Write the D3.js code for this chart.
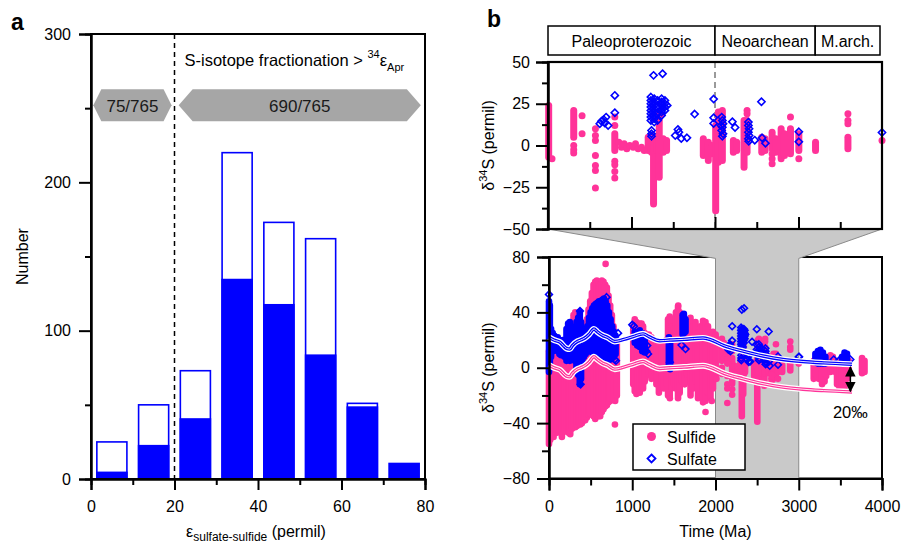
<!DOCTYPE html>
<html><head><meta charset="utf-8">
<script src="https://cdn.jsdelivr.net/npm/d3@7"></script>
<style>body{margin:0;background:#fff}svg{display:block}</style>
</head><body><svg id="c" width="901" height="543"></svg>
<script>
// ---------------- DATA ----------------
// Panel a: histogram of sulfate-sulfide fractionation
const binStarts = [0, 10, 20, 30, 40, 50, 60, 70];
const totalCounts = [25, 50, 73, 220, 173, 162, 51, 11];
const filledCounts = [5, 23, 41, 135, 118, 84, 49, 11];
const xTicksA = [0, 20, 40, 60, 80];
const yTicksA = [0, 100, 200, 300];
const groupLabels = ["75/765", "690/765"];
const groupExtents = [[0.55, 19.3], [21.0, 79.0]];
const thresholdEps = 20;

// Panel b: eras over the 2000-3000 Ma detail window
const eraNames = ["Paleoproterozoic", "Neoarchean", "M.arch."];
const eraBounds = [2000, 2500, 2800, 3000];
const detailWindow = [2000, 3000];
const xTicksB = [0, 1000, 2000, 3000, 4000];
const yTicksTop = [-50, -25, 0, 25, 50];
const yTicksBot = [-80, -40, 0, 40, 80];

// detail window data (2000-3000 Ma), used in both panels
// dense stacks: [age Ma, highest d34S, lowest d34S]
const detailSulfideStacks = [
  [2002, 24, -7], [2077, 21, 5], [2200, 7, -3], [2300, 5, -3], [2310, 6, -4],
  [2316, 1, -35], [2325, 5, -3], [2333, 19, -19], [2345, 4, -4], [2355, 3, -3],
  [2465, 4, -6], [2480, 2, -9], [2490, 0, -5], [2502, 12, -39], [2510, 20, -10],
  [2522, 21, -9], [2555, 3, -4], [2565, 2, -3], [2587, 15, -13], [2596, 15, -4],
  [2640, 5, -4], [2650, 4, -3], [2671, 8, -2], [2682, 4, -4], [2698, 10, -8],
  [2708, 7, -6], [2726, 10, -5], [2751, 7, -3], [2801, 2, -3], [2898, 5, -2]
];
const detailSulfidePts = [
  [2012, -8], [2077, 0], [2077, -2.5], [2077, -4.5], [2102, 17.8], [2102, 7],
  [2142, 10], [2142, 6], [2142, 3], [2142, -6], [2142, -12], [2142, -15], [2142, -25.5],
  [2200, 17], [2200, 12], [2200, -9.5], [2200, -11.5], [2200, -15.5], [2200, -19.5],
  [2212, 2], [2220, -1], [2228, 1], [2236, -2], [2245, 0], [2255, -1], [2262, 1],
  [2270, -2], [2280, -1], [2288, -3], [2596, 21], [2596, 19], [2671, -5], [2671, -8],
  [2671, -11], [2726, 17], [2751, -8], [2898, 19], [2898, 15], [2898, 13], [3000, 3], [2338, 18.5]
];
const detailSulfatePts = [
  [2155, 13], [2160, 14.5], [2167, 15.5], [2174, 17], [2180, 12], [2170, 13.5],
  [2200, 30], [2200, 19.6],
  [2308, 29], [2308, 27], [2308, 25], [2308, 23], [2308, 21], [2308, 19], [2308, 17], [2308, 15],
  [2310, 9], [2310, 7], [2310, 5.5],
  [2318, 28], [2318, 26], [2318, 24], [2318, 22], [2318, 20], [2318, 18], [2318, 16], [2318, 14],
  [2328, 27], [2328, 23], [2328, 19], [2328, 15],
  [2340, 28], [2340, 26], [2340, 24], [2340, 22], [2340, 20], [2340, 18],
  [2350, 27], [2350, 25], [2350, 23], [2350, 21], [2357, 24],
  [2316, 42], [2343, 43],
  [2381, 6], [2389, 9.6], [2392, 8], [2399, 4.2], [2416, 4.6], [2439, 18.8],
  [2496, 27.8], [2496, 16.6], [2496, 13.2],
  [2520, 17], [2522, 15], [2524, 13], [2522, 11], [2520, 9], [2524, 7], [2522, 5.5], [2518, 12],
  [2552, 14.2], [2560, 10.8],
  [2600, 14], [2600, 12], [2602, 10], [2600, 8], [2602, 6], [2600, 4], [2601, 2.5],
  [2639, 26.2], [2619, 3.2], [2641, 4.6], [2651, 1.4],
  [2751, 8.2], [2751, 2.2], [3000, 7.8]
];

// rest of the record (outside 2000-3000 Ma), lower panel only
const sulfideStacks = [
  [0, 12, -55], [15, 10, -52], [35, 12, -49], [55, 10, -50], [75, 12, -47], [95, 14, -47],
  [115, 14, -45], [135, 12, -46], [155, 15, -50], [175, 15, -45], [195, 14, -46], [215, 16, -44],
  [235, 20, -47], [255, 25, -48], [275, 32, -44], [295, 38, -43], [315, 40, -43], [335, 38, -42],
  [355, 30, -41], [375, 25, -41], [395, 22, -40], [415, 25, -38], [435, 28, -38], [455, 35, -36],
  [475, 42, -34], [495, 48, -33], [515, 54, -34], [535, 60, -35], [555, 62, -37], [575, 63, -35],
  [595, 60, -35], [615, 60, -35], [635, 63, -32], [655, 62, -30], [675, 60, -28], [695, 58, -27],
  [715, 52, -25], [735, 45, -24], [755, 38, -23], [775, 30, -22], [795, 20, -24], [815, 20, -20],
  [1012, 30, -12], [1030, 35, -17], [1050, 33, -19], [1070, 30, -15], [1090, 32, -18],
  [1110, 30, -14], [1130, 30, -15], [1150, 25, -10], [1200, 24, -5], [1230, 22, -8],
  [1260, 20, -3], [1290, 18, -12], [1320, 16, -18], [1350, 15, -10], [1380, 18, -15],
  [1410, 20, -12], [1430, 35, -20], [1450, 37, -21], [1470, 30, -15], [1500, 28, -12],
  [1525, 40, -15], [1550, 44, -22], [1570, 40, -18], [1600, 30, -10], [1630, 28, -12],
  [1660, 25, -5], [1700, 36, -20], [1730, 30, -15], [1760, 33, -10], [1790, 25, -22],
  [1820, 30, -20], [1850, 34, -25], [1880, 33, -24], [1910, 30, -18], [1940, 25, -22],
  [1970, 26, -15],
  [3180, 5, -8], [3210, 6, -6], [3240, 4, -8], [3280, 2, -12], [3310, 3, -10], [3330, 0, -6],
  [3380, 9, -3], [3410, 8, -2], [3440, 5, -3], [3460, 4, -12], [3490, 3, -15], [3520, 4, -13],
  [3550, 2, -15], [3580, 3, -8], [3600, 5, -5], [3760, 7, -4], [3790, 5, -3]
];
const sulfidePts = [[680, 75], [792, -41], [1452, -22], [1880, -32], [1955, -24], [1112, 32], [1552, 45]];
const sulfateStacks = [
  [0, 48, -3], [10, 45, 0], [25, 28, 8], [45, 25, 12], [65, 23, 13], [85, 21, 13], [105, 22, 12],
  [125, 20, 10], [145, 19, 9], [165, 20, 10], [185, 18, 8], [210, 28, 5], [230, 32, 6], [250, 33, 5],
  [270, 30, 8], [290, 22, 10], [310, 28, 5], [330, 33, 0], [350, 36, -5], [370, 40, -12],
  [385, 33, -8], [400, 25, 5], [420, 25, 8], [440, 27, 10], [460, 30, 12], [480, 36, 12],
  [500, 40, 12], [520, 43, 11], [540, 45, 10], [560, 46, 10], [580, 47, 9], [600, 48, 8],
  [620, 48, 8], [640, 49, 8], [660, 50, 7], [680, 48, 6], [700, 45, 6], [720, 40, 6],
  [740, 35, 6], [760, 30, 7], [780, 26, 8], [800, 23, 10],
  [1030, 26, 18], [1060, 24, 16], [1090, 27, 15], [1120, 25, 12], [1150, 20, 11],
  [1440, 22, 2], [1455, 20, -1], [1605, 38, 24], [1620, 39, 25], [1640, 35, 26],
  [3200, 10, 4], [3230, 12, 3], [3260, 13, 3], [3290, 11, 3], [3320, 8, 3],
  [3520, 8, 3], [3550, 11, 4], [3580, 10, 5]
];
const sulfatePts = [
  [0, 53], [372, 41], [380, -12], [692, 51], [752, 9], [790, 6], [804, 5], [730, 10], [710, 14],
  [770, 12], [660, 12], [600, 14], [830, 25], [1000, 31], [1020, 30], [1170, 12], [1190, 10],
  [1180, 16], [1592, 16.4], [1640, 13.5], [1452, 4], [3004, 8], [3420, 6], [3480, 5], [3620, 6]
];
// smoothed trends
const sulfateTrend = [
  [0, 22], [60, 20], [130, 18.5], [210, 14], [250, 13.5], [280, 16], [340, 19], [380, 20],
  [430, 21.5], [480, 24], [540, 28], [580, 26], [640, 23.5], [700, 22], [790, 19], [900, 20.5],
  [1010, 22.5], [1130, 24.5], [1200, 22.5], [1330, 19.5], [1450, 20], [1620, 20.5], [1850, 21.5],
  [1930, 20.5], [2100, 16], [2330, 12], [2570, 8.5], [2810, 6], [3050, 4.5], [3300, 3.5], [3640, 2.5]
];
const sulfideTrend = [
  [0, 2], [60, 0], [130, -1.5], [210, -6], [250, -6.5], [280, -4], [340, -1], [380, 0],
  [430, 1.5], [480, 4], [540, 8], [580, 6], [640, 3.5], [700, 2], [790, -1], [900, 0.5],
  [1010, 2.5], [1130, 4.5], [1200, 2.5], [1330, -0.5], [1450, 0], [1620, 0.5], [1850, 1.5],
  [1930, 0.5], [2100, -4], [2330, -8], [2570, -11.5], [2810, -14], [3050, -15.5], [3300, -16.5], [3640, -17.5]
];
const offsetArrow = {age: 3620, from: 0.5, to: -17};
const offsetLabel = "20‰";
const legendNames = ["Sulfide", "Sulfate"];

// ---------------- DRAWING ----------------
const FONT = '"Liberation Sans", Arial, Helvetica, sans-serif';
const PINK = "#ff3399", BLUE = "#0000ff";
const svg = d3.select("#c").attr("font-family", FONT);

function styleAxis(g, size) {
  g.select(".domain").attr("stroke", "#000").attr("stroke-width", 2);
  g.selectAll(".tick line").attr("stroke", "#000").attr("stroke-width", 2);
  g.selectAll(".tick text").attr("font-family", FONT).attr("font-size", size || 16).attr("fill", "#000");
}
function minorTicks(domain, step) {
  const out = [];
  for (let v = domain[0] + step / 2; v < domain[1]; v += step) out.push(v);
  return out;
}

// ===== Panel a =====
const xA = d3.scaleLinear().domain([0, 80]).range([91, 425]);
const yA = d3.scaleLinear().domain([0, 300]).range([479, 34]);

svg.append("text").attr("x", 11).attr("y", 30).attr("font-size", 23).attr("font-weight", "bold").text("a");

// bars
const gBars = svg.append("g");
binStarts.forEach((b, i) => {
  const x0 = xA(b + 1.4), x1 = xA(b + 8.6);
  if (totalCounts[i] > filledCounts[i]) {
    gBars.append("rect").attr("x", x0).attr("y", yA(totalCounts[i]))
      .attr("width", x1 - x0).attr("height", yA(0) - yA(totalCounts[i]))
      .attr("fill", "#fff").attr("stroke", BLUE).attr("stroke-width", 1.6);
  }
  gBars.append("rect").attr("x", x0 - 0.8).attr("y", yA(filledCounts[i]))
    .attr("width", x1 - x0 + 1.6).attr("height", yA(0) - yA(filledCounts[i]))
    .attr("fill", BLUE);
});

// threshold line
svg.append("line").attr("x1", xA(thresholdEps)).attr("x2", xA(thresholdEps))
  .attr("y1", yA(300)).attr("y2", yA(0)).attr("stroke", "#000").attr("stroke-width", 1.5)
  .attr("stroke-dasharray", "5,4");

// group arrows (hexagons)
const hexY = yA(252), hexH = 32;
const indents = [8, 14];
groupExtents.forEach((ext, i) => {
  const x0 = xA(ext[0]), x1 = xA(ext[1]), d = indents[i];
  const pts = [[x0, hexY], [x0 + d, hexY - hexH / 2], [x1 - d, hexY - hexH / 2], [x1, hexY],
               [x1 - d, hexY + hexH / 2], [x0 + d, hexY + hexH / 2]];
  svg.append("polygon").attr("points", pts.map(p => p.join(",")).join(" ")).attr("fill", "#a6a6a6");
  svg.append("text").attr("x", (x0 + x1) / 2).attr("y", hexY + 6.5).attr("text-anchor", "middle")
    .attr("font-size", 17).attr("fill", "#1a1a1a").text(groupLabels[i]);
});

// annotation
const ann = svg.append("text").attr("x", xA(22.4)).attr("y", 66).attr("font-size", 16.5).attr("fill", "#000");
ann.append("tspan").text("S-isotope fractionation > ");
ann.append("tspan").attr("font-size", 11).attr("dy", -8).text("34");
ann.append("tspan").attr("font-size", 16.5).attr("dy", 8).text("ε");
ann.append("tspan").attr("font-size", 11).attr("dy", 5).text("Apr");

// frame
svg.append("rect").attr("x", xA(0)).attr("y", yA(300)).attr("width", xA(80) - xA(0))
  .attr("height", yA(0) - yA(300)).attr("fill", "none").attr("stroke", "#000").attr("stroke-width", 2);

// axes
svg.append("g").attr("transform", `translate(${xA(0)},0)`)
  .call(d3.axisLeft(yA).tickValues(minorTicks([0, 300], 100)).tickSize(6).tickFormat(""))
  .call(g => styleAxis(g));
svg.append("g").attr("transform", `translate(${xA(0)},0)`)
  .call(d3.axisLeft(yA).tickValues(yTicksA).tickSize(12).tickPadding(8).tickFormat(d3.format("d")))
  .call(g => styleAxis(g));
svg.append("g").attr("transform", `translate(0,${yA(0)})`)
  .call(d3.axisBottom(xA).tickValues(minorTicks([0, 80], 20)).tickSize(6).tickFormat(""))
  .call(g => styleAxis(g));
svg.append("g").attr("transform", `translate(0,${yA(0)})`)
  .call(d3.axisBottom(xA).tickValues(xTicksA).tickSize(11).tickPadding(11).tickFormat(d3.format("d")))
  .call(g => styleAxis(g));

svg.append("text").attr("transform", `translate(28,${(yA(0) + yA(300)) / 2}) rotate(-90)`)
  .attr("text-anchor", "middle").attr("font-size", 16).text("Number");
const xl = svg.append("text").attr("x", (xA(0) + xA(80)) / 2 - 2).attr("y", 537).attr("text-anchor", "middle").attr("font-size", 16);
xl.append("tspan").text("ε");
xl.append("tspan").attr("font-size", 12).attr("dy", 4).text("sulfate-sulfide");
xl.append("tspan").attr("dy", -4).text(" (permil)");

// ===== Panel b =====
const xT = d3.scaleLinear().domain(detailWindow).range([548, 882]);
const yT = d3.scaleLinear().domain([-50, 50]).range([229, 62]);
const xB = d3.scaleLinear().domain([0, 4000]).range([549, 882]);
const yB = d3.scaleLinear().domain([-80, 80]).range([478.5, 257]);

svg.append("text").attr("x", 487).attr("y", 27).attr("font-size", 23).attr("font-weight", "bold").text("b");

// era bar
eraNames.forEach((n, i) => {
  const x0 = xT(eraBounds[i]), x1 = Math.min(xT(eraBounds[i + 1]), 880);
  svg.append("rect").attr("x", x0).attr("y", 26).attr("width", x1 - x0).attr("height", 29)
    .attr("fill", "#fff").attr("stroke", "#000").attr("stroke-width", 1.5);
  svg.append("text").attr("x", (x0 + x1) / 2).attr("y", 46.5).attr("text-anchor", "middle")
    .attr("font-size", 16).text(n);
});

// lower panel frame (top + right)
svg.append("rect").attr("x", xB(0)).attr("y", yB(80)).attr("width", xB(4000) - xB(0))
  .attr("height", yB(-80) - yB(80)).attr("fill", "none").attr("stroke", "#000").attr("stroke-width", 2);

// gray connector
const conn = [[xT(detailWindow[0]), yT(-50)], [xT(detailWindow[1]), yT(-50)],
  [xB(detailWindow[1]), yB(79)], [xB(detailWindow[1]), yB(-80)],
  [xB(detailWindow[0]), yB(-80)], [xB(detailWindow[0]), yB(79)]];
svg.append("polygon").attr("points", conn.map(p => p.join(",")).join(" "))
  .attr("fill", "#c9c9c9").attr("stroke", "#8a8a8a").attr("stroke-width", 1);

// marks
function drawStacks(g, data, xs, ys, color, r) {
  g.selectAll(null).data(data).enter().append("line")
    .attr("x1", d => xs(d[0])).attr("x2", d => xs(d[0]))
    .attr("y1", d => ys(d[1])).attr("y2", d => ys(d[2]))
    .attr("stroke", color).attr("stroke-width", 2 * r).attr("stroke-linecap", "round");
}
function drawDots(g, data, xs, ys, color, r) {
  g.selectAll(null).data(data).enter().append("circle")
    .attr("cx", d => xs(d[0])).attr("cy", d => ys(d[1])).attr("r", r).attr("fill", color);
}
function diamondPath(s) { return `M0,${-s}L${s},0L0,${s}L${-s},0Z`; }
function drawDiamonds(g, data, xs, ys, s) {
  g.selectAll(null).data(data).enter().append("path")
    .attr("transform", d => `translate(${xs(d[0])},${ys(d[1])})`)
    .attr("d", diamondPath(s)).attr("fill", "none").attr("stroke", BLUE).attr("stroke-width", 1.6);
}

// upper (detail) plot
svg.append("rect").attr("x", xT(2000)).attr("y", yT(50)).attr("width", xT(3000) - xT(2000))
  .attr("height", yT(-50) - yT(50)).attr("fill", "#fff");
svg.append("line").attr("x1", xT(2500)).attr("x2", xT(2500)).attr("y1", yT(50)).attr("y2", yT(-50))
  .attr("stroke", "#9a9a9a").attr("stroke-width", 2).attr("stroke-dasharray", "6,4");
const gT = svg.append("g");
drawStacks(gT, detailSulfideStacks, xT, yT, PINK, 3.5);
drawDots(gT, detailSulfidePts, xT, yT, PINK, 3.5);
drawDiamonds(gT, detailSulfatePts, xT, yT, 3.6);
svg.append("rect").attr("x", xT(2000)).attr("y", yT(50)).attr("width", xT(3000) - xT(2000))
  .attr("height", yT(-50) - yT(50)).attr("fill", "none").attr("stroke", "#000").attr("stroke-width", 2.2);
svg.append("g").attr("transform", `translate(${xT(2000)},0)`)
  .call(d3.axisLeft(yT).tickValues(minorTicks([-50, 50], 25)).tickSize(6).tickFormat(""))
  .call(g => styleAxis(g));
svg.append("g").attr("transform", `translate(${xT(2000)},0)`)
  .call(d3.axisLeft(yT).tickValues(yTicksTop).tickSize(12).tickPadding(6).tickFormat(d3.format("d")))
  .call(g => styleAxis(g));
svg.append("g").attr("transform", `translate(0,${yT(-50)})`)
  .call(d3.axisBottom(xT).tickValues(minorTicks([2000, 3000], 250)).tickSize(-7).tickFormat(""))
  .call(g => { styleAxis(g); g.select(".domain").remove(); });
svg.append("g").attr("transform", `translate(0,${yT(-50)})`)
  .call(d3.axisBottom(xT).tickValues([2250, 2500, 2750]).tickSize(-12).tickFormat(""))
  .call(g => { styleAxis(g); g.select(".domain").remove(); });

// lower (full) plot
const gB = svg.append("g");
drawStacks(gB, sulfideStacks, xB, yB, PINK, 3.3);
drawDots(gB, sulfidePts, xB, yB, PINK, 3.3);
drawStacks(gB, detailSulfideStacks, xB, yB, PINK, 3.3);
drawDots(gB, detailSulfidePts, xB, yB, PINK, 3.3);
drawStacks(gB, sulfateStacks, xB, yB, BLUE, 3.3);
drawDiamonds(gB, sulfatePts, xB, yB, 3.4);
drawDiamonds(gB, detailSulfatePts, xB, yB, 3.4);

// trends
const line = d3.line().x(d => xB(d[0])).y(d => yB(d[1])).curve(d3.curveMonotoneX);
[[sulfateTrend, BLUE], [sulfideTrend, PINK]].forEach(([data, c]) => {
  svg.append("path").attr("d", line(data)).attr("fill", "none").attr("stroke", "#fff").attr("stroke-width", 6);
  svg.append("path").attr("d", line(data)).attr("fill", "none").attr("stroke", c).attr("stroke-width", 3.4);
  svg.append("path").attr("d", line(data)).attr("fill", "none").attr("stroke", "#fff").attr("stroke-width", 0.9);
});

// offset arrow
const defs = svg.append("defs");
["s", "e"].forEach(k => {
  defs.append("marker").attr("id", "ar" + k).attr("viewBox", "0 0 10 10").attr("refX", 9).attr("refY", 5)
    .attr("markerWidth", 7).attr("markerHeight", 7).attr("orient", "auto-start-reverse")
    .append("path").attr("d", "M0,0L10,5L0,10Z").attr("fill", "#000");
});
svg.append("line").attr("x1", xB(offsetArrow.age)).attr("x2", xB(offsetArrow.age))
  .attr("y1", yB(offsetArrow.from)).attr("y2", yB(offsetArrow.to))
  .attr("stroke", "#000").attr("stroke-width", 1.5)
  .attr("marker-start", "url(#ars)").attr("marker-end", "url(#are)");
svg.append("text").attr("x", xB(offsetArrow.age)).attr("y", 418).attr("text-anchor", "middle")
  .attr("font-size", 16.5).text(offsetLabel);

// legend
const lg = svg.append("g").attr("transform", "translate(633,424)");
lg.append("rect").attr("width", 112).attr("height", 46).attr("fill", "#fff").attr("stroke", "#000").attr("stroke-width", 1.5);
lg.append("circle").attr("cx", 18.5).attr("cy", 12.5).attr("r", 4.5).attr("fill", PINK);
lg.append("path").attr("transform", "translate(18.5,34.5)").attr("d", diamondPath(4)).attr("fill", "none")
  .attr("stroke", BLUE).attr("stroke-width", 1.8);
lg.selectAll(null).data(legendNames).enter().append("text").attr("x", 34).attr("y", (d, i) => 18.5 + i * 22)
  .attr("font-size", 16).text(d => d);

// lower axes
svg.append("g").attr("transform", `translate(${xB(0)},0)`)
  .call(d3.axisLeft(yB).tickValues(minorTicks([-80, 80], 40)).tickSize(7).tickFormat(""))
  .call(g => styleAxis(g));
svg.append("g").attr("transform", `translate(${xB(0)},0)`)
  .call(d3.axisLeft(yB).tickValues(yTicksBot).tickSize(12).tickPadding(7).tickFormat(d3.format("d")))
  .call(g => styleAxis(g));
svg.append("g").attr("transform", `translate(0,${yB(-80)})`)
  .call(d3.axisBottom(xB).tickValues(minorTicks([0, 4000], 1000)).tickSize(7).tickFormat(""))
  .call(g => styleAxis(g));
svg.append("g").attr("transform", `translate(0,${yB(-80)})`)
  .call(d3.axisBottom(xB).tickValues(xTicksB).tickSize(12).tickPadding(10).tickFormat(d3.format("d")))
  .call(g => styleAxis(g));

function yLabel(cx, cy) {
  const t = svg.append("text").attr("transform", `translate(${cx},${cy}) rotate(-90)`)
    .attr("text-anchor", "middle").attr("font-size", 16);
  t.append("tspan").text("δ");
  t.append("tspan").attr("font-size", 11).attr("dy", -7).text("34");
  t.append("tspan").attr("dy", 7).text("S (permil)");
}
yLabel(494, (yT(50) + yT(-50)) / 2);
yLabel(494, (yB(80) + yB(-80)) / 2);
svg.append("text").attr("x", (xB(0) + xB(4000)) / 2).attr("y", 537).attr("text-anchor", "middle")
  .attr("font-size", 16).text("Time (Ma)");
</script></body></html>
